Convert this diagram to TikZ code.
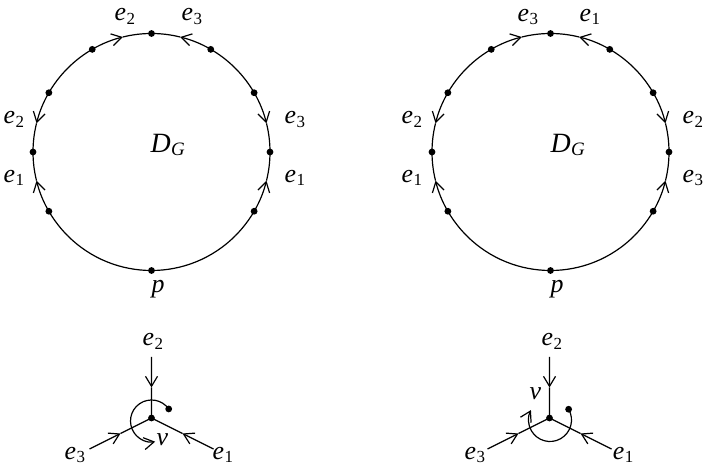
\documentclass[tikz,border=0pt]{standalone}
\usepackage{fontspec}
\setmainfont{Liberation Serif}
\usetikzlibrary{arrows.meta,calc}
\newcommand\lbl[2]{\textit{#1}\kern0.02em\raisebox{-3.5bp}{\fontsize{17}{17}\selectfont #2}}
\newcommand\lblit[2]{\textit{#1}\kern0.01em\raisebox{-3bp}{\fontsize{19}{19}\selectfont\itshape #2}}
\begin{document}
\begin{tikzpicture}[x=1bp,y=1bp,line width=1.2bp,
  dotn/.style={circle,fill,inner sep=0,minimum size=6.8bp},
  tipst/.style={-{Straight Barb[length=10bp,width=12bp]}},
  lab/.style={anchor=base west,inner sep=0,font=\fontsize{26}{26}\selectfont},
  labd/.style={anchor=base west,inner sep=0,font=\fontsize{28}{28}\selectfont}
]
\useasboundingbox (0,0) rectangle (704,469);
% ---------- circles ----------
\coordinate (C1) at (151.5,317);
\coordinate (C2) at (550.5,317);
\foreach \c in {C1,C2}{
  \foreach \a in {0,90,180}{
    \pgfmathsetmacro\aa{\a+45}\pgfmathsetmacro\ab{\a+14}
    \pgfmathsetmacro\ac{\a-45}\pgfmathsetmacro\ad{\a-14}
    \draw[tipst] ([shift={(\aa:118.5)}]\c) arc[start angle=\aa,end angle=\ab,radius=118.5];
    \draw[tipst] ([shift={(\ac:118.5)}]\c) arc[start angle=\ac,end angle=\ad,radius=118.5];
    \draw ([shift={(\ad:118.5)}]\c) arc[start angle=\ad,end angle=\ab,radius=118.5];
  }
  \draw ([shift={(225:118.5)}]\c) arc[start angle=225,end angle=315,radius=118.5];
  \foreach \a in {0,30,60,90,120,150,180,210,270,330}
    \node[dotn] (\c d\a) at ([shift={(\a:118.5)}]\c) {};
}
% left circle labels
\node[lab] (l1) at (114,448.3) {\lbl{e}{2}};
\node[lab] (l2) at (181,448.3) {\lbl{e}{3}};
\node[lab] (l3) at (3,345) {\lbl{e}{2}};
\node[lab] (l4) at (3,286.5) {\lbl{e}{1}};
\node[lab] (l5) at (284,345) {\lbl{e}{3}};
\node[lab] (l6) at (284,286.5) {\lbl{e}{1}};
\node[labd] (l7) at (150,316.7) {\lblit{D}{G}};
\node[lab] (l8) at (151,176) {\textit{p}};
% right circle labels
\node[lab] (r1) at (517,447.5) {\lbl{e}{3}};
\node[lab] (r2) at (579,447.5) {\lbl{e}{1}};
\node[lab] (r3) at (401,345) {\lbl{e}{2}};
\node[lab] (r4) at (401,286.5) {\lbl{e}{1}};
\node[lab] (r5) at (682,345) {\lbl{e}{2}};
\node[lab] (r6) at (682,286.5) {\lbl{e}{3}};
\node[labd] (r7) at (550,316.7) {\lblit{D}{G}};
\node[lab] (r8) at (550,176) {\textit{p}};
% ---------- bottom left vertex ----------
\node[dotn] (V1) at (151.5,51) {};
\coordinate (V1t) at (151.5,112);
\coordinate (V1l) at (89.5,20);
\coordinate (V1r) at (213.5,20);
\foreach \e in {V1t,V1l,V1r}{
  \coordinate (m) at ($(\e)!0.5!(V1.center)$);
  \draw[tipst] (\e) -- (m);
  \draw (m) -- (V1.center);
}
\coordinate (LC1) at (151.5,48);
\node[dotn] (D1) at ([shift={(35:21)}]LC1) {};
\draw[tipst] (D1.center) arc[start angle=35,end angle=280,radius=21];
\node[lab] (b1) at (142,123) {\lbl{e}{2}};
\node[lab] (b2) at (64,9.7) {\lbl{e}{3}};
\node[lab] (b3) at (212,9.7) {\lbl{e}{1}};
\node[lab] (b4) at (156,23.3) {\textit{v}};
% ---------- bottom right vertex ----------
\node[dotn] (V2) at (549.5,51) {};
\coordinate (V2t) at (549.5,112);
\coordinate (V2l) at (487.5,20);
\coordinate (V2r) at (611.5,20);
\foreach \e in {V2t,V2l,V2r}{
  \coordinate (m) at ($(\e)!0.5!(V2.center)$);
  \draw[tipst] (\e) -- (m);
  \draw (m) -- (V2.center);
}
\coordinate (LC2) at (550,49);
\node[dotn] (D2) at ([shift={(30:21.5)}]LC2) {};
\draw[tipst] (D2.center) arc[start angle=30,end angle=-207.5,radius=21.5];
\node[lab] (c1) at (541,123) {\lbl{e}{2}};
\node[lab] (c2) at (464,9.7) {\lbl{e}{3}};
\node[lab] (c3) at (612.3,9.7) {\lbl{e}{1}};
\node[lab] (c4) at (529,69) {\textit{v}};
\end{tikzpicture}
\end{document}
